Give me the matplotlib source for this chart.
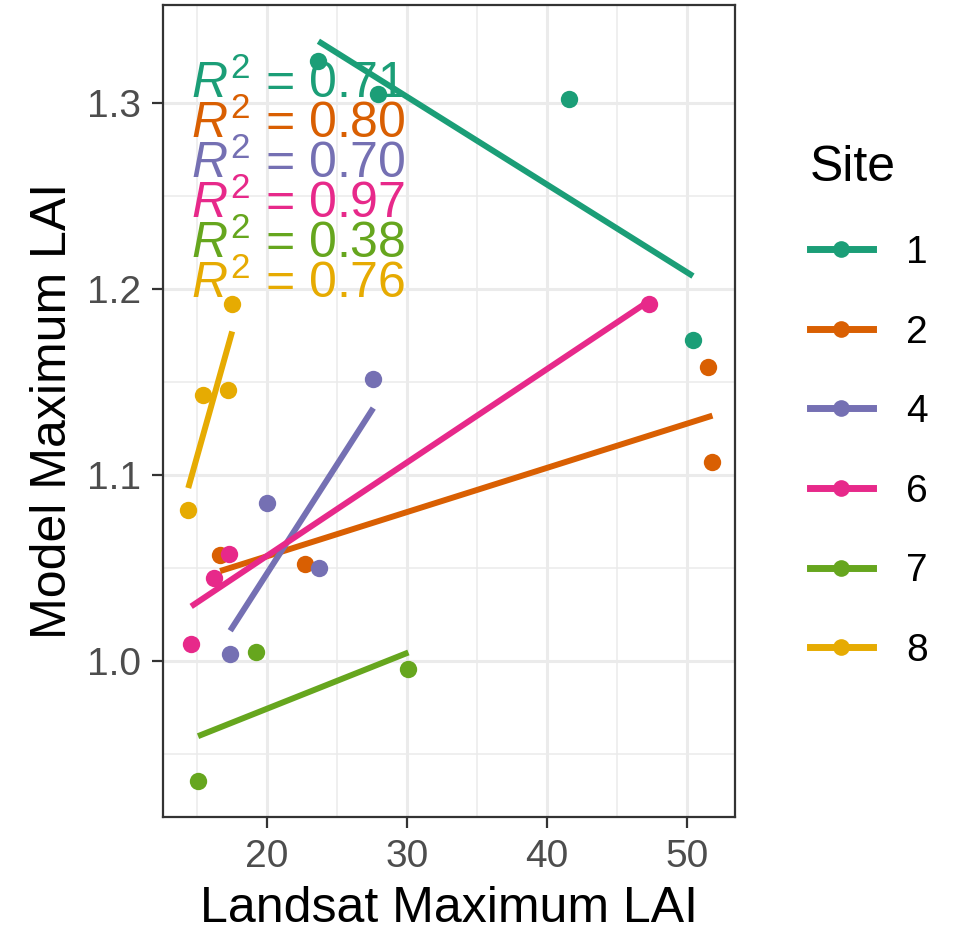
import matplotlib
matplotlib.use("Agg")
import matplotlib.pyplot as plt
from matplotlib.lines import Line2D
import numpy as np

plt.rcParams['font.family'] = ['Liberation Sans', 'DejaVu Sans']
plt.rcParams['mathtext.fontset'] = 'custom'
plt.rcParams['mathtext.rm'] = 'Liberation Sans'
plt.rcParams['mathtext.it'] = 'Liberation Sans:italic'

# data, per site
sites = ['1', '2', '4', '6', '7', '8']
colors = ['#1B9E77', '#D95F02', '#7570B3', '#E7298A', '#66A61E', '#E6AB02']
landsat = {
    '1': [23.67, 27.96, 41.58, 50.43],
    '2': [16.65, 22.68, 51.50, 51.82],
    '4': [17.37, 20.00, 23.70, 27.59],
    '6': [14.58, 16.20, 17.27, 47.27],
    '7': [15.07, 19.20, 30.10],
    '8': [14.37, 15.44, 17.24, 17.51],
}
model = {
    '1': [1.3224, 1.3047, 1.3022, 1.1724],
    '2': [1.0568, 1.0520, 1.1580, 1.1070],
    '4': [1.0034, 1.0850, 1.0497, 1.1513],
    '6': [1.0090, 1.0443, 1.0577, 1.1918],
    '7': [0.9355, 1.0049, 0.9954],
    '8': [1.0810, 1.1428, 1.1459, 1.1918],
}
r2_labels = ['0.71', '0.80', '0.70', '0.97', '0.38', '0.76']

fig = plt.figure(figsize=(9.54, 9.35), dpi=100)
ax = fig.add_axes([0.1709, 0.1262, 0.5995, 0.8685])

for s, c in zip(sites, colors):
    x = np.array(landsat[s])
    y = np.array(model[s])
    ax.plot(x, y, 'o', color=c, ms=12.5, mec='none', zorder=3)
    # lm fit over the site's x range
    k, b = np.polyfit(x, y, 1)
    xs = np.array([x.min(), x.max()])
    ax.plot(xs, k * xs + b, '-', color=c, lw=4.3, solid_capstyle='butt', zorder=4)

# R^2 labels stacked top-left
for i, (lab, c) in enumerate(zip(r2_labels, colors)):
    ax.text(14.55, 1.3025 - i * 0.0215, r'$R^2$ = ' + lab, color=c,
            fontsize=36, ha='left', va='baseline', zorder=5)

ax.set_xlim(12.57, 53.43)
ax.set_ylim(0.916, 1.3527)
ax.set_xticks([20, 30, 40, 50])
ax.set_xticks([15, 25, 35, 45], minor=True)
ax.set_yticks([1.0, 1.1, 1.2, 1.3])
ax.set_yticks([0.95, 1.05, 1.15, 1.25], minor=True)
ax.set_yticklabels(['1.0', '1.1', '1.2', '1.3'])
ax.grid(which='major', color='#EBEBEB', lw=2.2, zorder=0)
ax.grid(which='minor', color='#EBEBEB', lw=1.1, zorder=0)
ax.set_axisbelow(True)
for sp in ax.spines.values():
    sp.set_color('#333333')
    sp.set_linewidth(1.6)
ax.tick_params(which='major', length=8, width=1.6, color='#333333',
               labelcolor='#4D4D4D', labelsize=28, pad=8)
ax.tick_params(which='minor', length=0)

ax.set_xlabel('Landsat Maximum LAI', fontsize=36, labelpad=8)
ax.set_ylabel('Model Maximum LAI', fontsize=36, labelpad=8)

handles = [Line2D([0], [0], color=c, lw=5, marker='o', ms=12, mec='none')
           for c in colors]
leg = fig.legend(handles, sites, title='Site', loc='upper left',
                 bbox_to_anchor=(810 / 954, 0.8445), frameon=False,
                 borderpad=0, borderaxespad=0,
                 fontsize=28, title_fontsize=36, handlelength=1.62,
                 handletextpad=0.85, labelspacing=1.12)
leg._legend_box.align = 'left'

fig.savefig('out.png', dpi=100)
